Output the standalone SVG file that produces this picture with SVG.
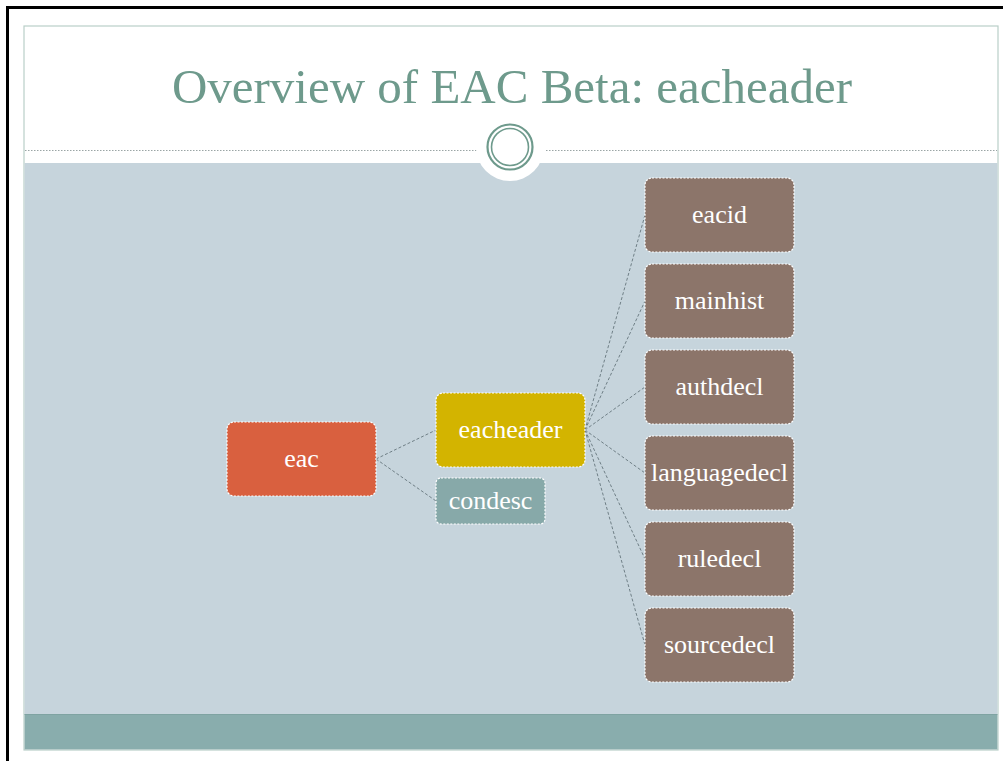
<svg xmlns="http://www.w3.org/2000/svg" width="1003" height="761" viewBox="0 0 1003 761">
  <style>
    .node rect { stroke: #ffffff; stroke-width: 1.2; stroke-dasharray: 2 1.5; }
    .node text { font-family: "Liberation Serif", "Times New Roman", serif; font-size: 26px; fill: #ffffff; text-anchor: middle; }
    .root rect { fill: #d9603f; }
    .header rect { fill: #d3b400; }
    .cond rect { fill: #87a9a9; }
    .leaf rect { fill: #8c756a; }
    #connectors line { stroke: #6f7f86; stroke-width: 1; stroke-dasharray: 3 2; fill: none; }
  </style>

  <!-- page background and outer black edges -->
  <rect x="0" y="0" width="1003" height="761" fill="#ffffff"/>
  <line x1="7" y1="7.5" x2="1003" y2="7.5" stroke="#000000" stroke-width="3"/>
  <line x1="7.5" y1="6" x2="7.5" y2="761" stroke="#000000" stroke-width="3"/>

  <!-- slide -->
  <g id="slide">
    <rect x="24" y="26" width="974" height="724" fill="#ffffff" stroke="#b9cfc8" stroke-width="1.2"/>
    <rect x="24.6" y="163" width="972.8" height="551" fill="#c6d4dc"/>
    <rect x="24.6" y="714" width="972.8" height="35.4" fill="#89adad"/>
    <line x1="24.6" y1="714.5" x2="997.4" y2="714.5" stroke="#7fa3a2" stroke-width="1"/>
    <!-- dotted title rule -->
    <line x1="25" y1="150.5" x2="477" y2="150.5" stroke="#9aa5a5" stroke-width="1" stroke-dasharray="1.5 1.5"/>
    <line x1="546" y1="150.5" x2="997" y2="150.5" stroke="#9aa5a5" stroke-width="1" stroke-dasharray="1.5 1.5"/>
    <!-- ornament -->
    <circle cx="510" cy="147" r="34" fill="#ffffff"/>
    <circle cx="510" cy="147" r="22.5" fill="none" stroke="#6e9a8c" stroke-width="2.2"/>
    <circle cx="510" cy="147" r="18.5" fill="none" stroke="#6e9a8c" stroke-width="1.6"/>
  </g>

  <text id="title" x="512" y="103" font-family="Liberation Serif, 'Times New Roman', serif" font-size="49" fill="#6e9a8c" text-anchor="middle">Overview of EAC Beta: eacheader</text>

  <!-- tree connectors -->
  <g id="connectors">
    <line x1="376" y1="459" x2="436" y2="430"/>
    <line x1="376" y1="459" x2="436" y2="501"/>
    <line x1="585" y1="430" x2="645" y2="215"/>
    <line x1="585" y1="430" x2="645" y2="301"/>
    <line x1="585" y1="430" x2="645" y2="387"/>
    <line x1="585" y1="430" x2="645" y2="473"/>
    <line x1="585" y1="430" x2="645" y2="559"/>
    <line x1="585" y1="430" x2="645" y2="645"/>
  </g>

  <!-- nodes -->
  <g id="node-eac" class="node root">
    <rect x="227" y="422" width="149" height="74" rx="7"/>
    <text x="301.5" y="467">eac</text>
  </g>
  <g id="node-eacheader" class="node header">
    <rect x="436" y="393" width="149" height="74" rx="7"/>
    <text x="510.5" y="438">eacheader</text>
  </g>
  <g id="node-condesc" class="node cond">
    <rect x="436" y="478" width="109" height="46" rx="5"/>
    <text x="490.5" y="509">condesc</text>
  </g>
  <g id="node-eacid" class="node leaf">
    <rect x="645" y="178" width="149" height="74" rx="7"/>
    <text x="719.5" y="223">eacid</text>
  </g>
  <g id="node-mainhist" class="node leaf">
    <rect x="645" y="264" width="149" height="74" rx="7"/>
    <text x="719.5" y="309">mainhist</text>
  </g>
  <g id="node-authdecl" class="node leaf">
    <rect x="645" y="350" width="149" height="74" rx="7"/>
    <text x="719.5" y="395">authdecl</text>
  </g>
  <g id="node-languagedecl" class="node leaf">
    <rect x="645" y="436" width="149" height="74" rx="7"/>
    <text x="719.5" y="481">languagedecl</text>
  </g>
  <g id="node-ruledecl" class="node leaf">
    <rect x="645" y="522" width="149" height="74" rx="7"/>
    <text x="719.5" y="567">ruledecl</text>
  </g>
  <g id="node-sourcedecl" class="node leaf">
    <rect x="645" y="608" width="149" height="74" rx="7"/>
    <text x="719.5" y="653">sourcedecl</text>
  </g>
</svg>
